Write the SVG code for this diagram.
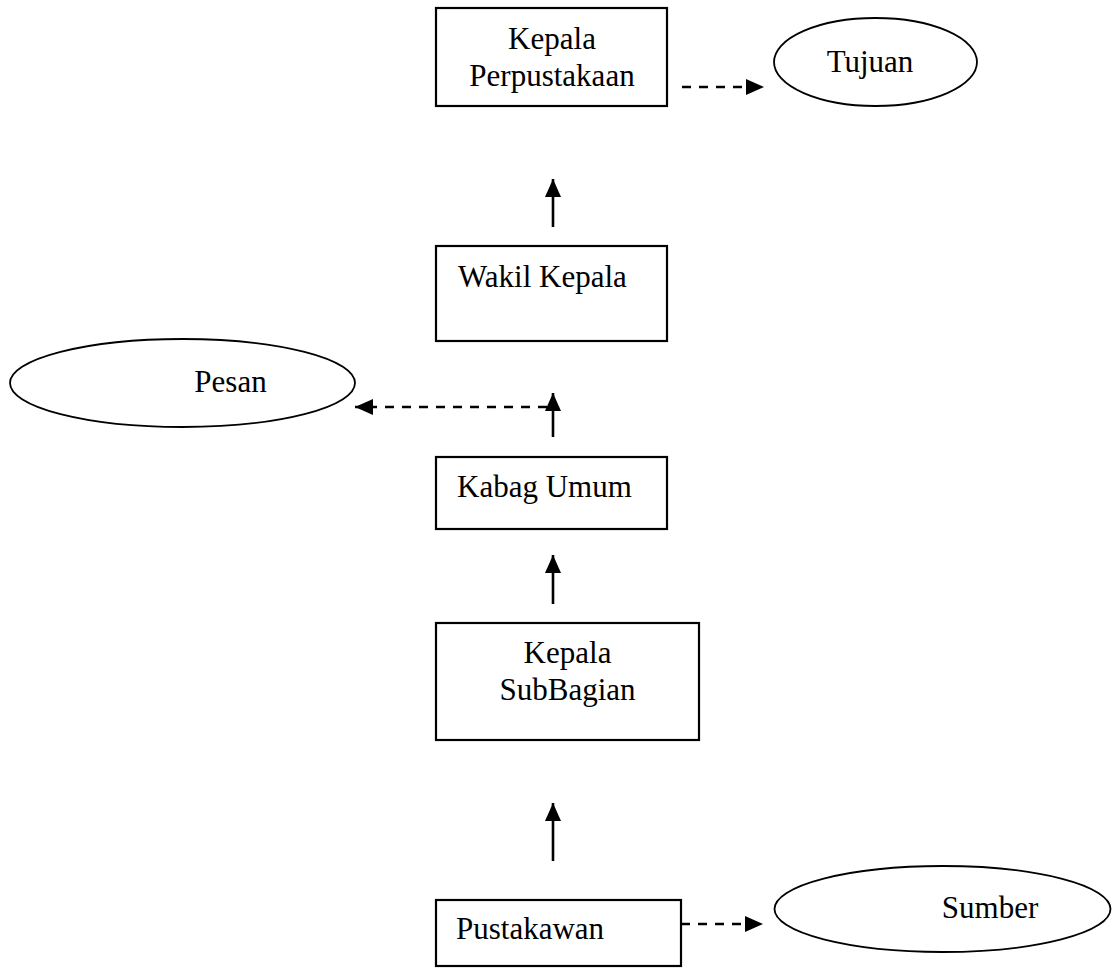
<svg xmlns="http://www.w3.org/2000/svg" width="1113" height="972" viewBox="0 0 1113 972">
<style>
.box{fill:#fff;stroke:#000;stroke-width:2.2}
.ell{fill:#fff;stroke:#000;stroke-width:1.8}
.t{font-family:"Liberation Serif","Times New Roman",serif;font-size:31px;fill:#000}
.c{text-anchor:middle}
.solid{stroke:#000;stroke-width:2.6;fill:none}
.dash{stroke:#000;stroke-width:2.6;fill:none;stroke-dasharray:9 8}
</style>
<defs>
<marker id="ah" markerUnits="userSpaceOnUse" markerWidth="18" markerHeight="16" viewBox="0 0 18 16" refX="18" refY="8" orient="auto">
<path d="M0,0 L18,8 L0,16 z" fill="#000"/>
</marker>
</defs>
<rect width="1113" height="972" fill="#fff"/>
<g id="kepala-perpustakaan">
<rect class="box" x="436" y="8" width="231" height="98"/>
<text class="t c" x="552" y="49">Kepala</text>
<text class="t c" x="552" y="86">Perpustakaan</text>
</g>
<g id="tujuan">
<ellipse class="ell" cx="875.5" cy="62" rx="101.5" ry="44"/>
<text class="t c" x="870" y="72">Tujuan</text>
</g>
<g id="wakil-kepala">
<rect class="box" x="436" y="246" width="231" height="95"/>
<text class="t" x="458" y="287">Wakil Kepala</text>
</g>
<g id="pesan">
<ellipse class="ell" cx="182.5" cy="383" rx="172.5" ry="44"/>
<text class="t c" x="230.5" y="392">Pesan</text>
</g>
<g id="kabag-umum">
<rect class="box" x="436" y="457" width="231" height="72"/>
<text class="t" x="457" y="497">Kabag Umum</text>
</g>
<g id="kepala-subbagian">
<rect class="box" x="436" y="623" width="263" height="117"/>
<text class="t c" x="567.5" y="663">Kepala</text>
<text class="t c" x="567.5" y="700">SubBagian</text>
</g>
<g id="pustakawan">
<rect class="box" x="436" y="900" width="245" height="66"/>
<text class="t" x="456" y="939">Pustakawan</text>
</g>
<g id="sumber">
<ellipse class="ell" cx="942.5" cy="909" rx="168" ry="43"/>
<text class="t c" x="990" y="918">Sumber</text>
</g>
<g id="connectors">
<line class="dash" x1="682" y1="87" x2="764" y2="87" marker-end="url(#ah)"/>
<line class="solid" x1="553" y1="227" x2="553" y2="179" marker-end="url(#ah)"/>
<line class="solid" x1="553" y1="437" x2="553" y2="393" marker-end="url(#ah)"/>
<line class="dash" x1="547" y1="407" x2="355" y2="407" marker-end="url(#ah)"/>
<line class="solid" x1="553" y1="604" x2="553" y2="555" marker-end="url(#ah)"/>
<line class="solid" x1="553" y1="861" x2="553" y2="803" marker-end="url(#ah)"/>
<line class="dash" x1="681" y1="924" x2="763" y2="924" marker-end="url(#ah)"/>
</g>
</svg>
